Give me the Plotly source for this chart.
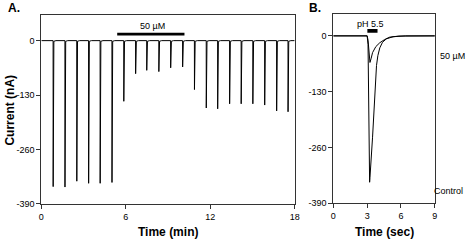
import plotly.graph_objects as go

# ---- Panel A data: spike times (min) and peak currents (nA)
spike_times = [0.84, 1.68, 2.52, 3.36, 4.18, 5.02, 5.86, 6.70, 7.49, 8.35,
               9.19, 10.04, 10.88, 11.72, 12.53, 13.38, 14.20, 15.03, 15.87,
               16.72, 17.53]
spike_peaks = [-349, -350, -336, -341, -341, -339, -145, -79, -71, -74,
               -65, -63, -117, -161, -163, -151, -151, -151, -154, -168, -170]
bar_a = [5.39, 10.17]          # 50 µM application (min)

# ---- Panel B data: time (sec) and current (nA)
ctrl_t = [0.0, 3.0, 3.08, 3.15, 3.22, 3.25, 3.48, 3.69, 3.75, 3.83, 3.95,
          4.12, 4.36, 4.7, 5.3, 6.4, 9.0]
ctrl_v = [0, 0, -20, -200, -341, -330, -236, -122, -100, -69, -46,
          -28, -15, -7, -2, 0, 0]
drug_t = [0.0, 3.0, 3.08, 3.18, 3.25, 3.36, 3.48, 3.77, 4.12, 4.56, 5.0,
          5.8, 9.0]
drug_v = [0, 0, -10, -45, -62, -52, -39, -25, -16, -8.4, -3, -0.5, 0]
bar_b = [3.02, 3.92]           # pH 5.5 application (sec)

ytick_vals = [0, -130, -260, -390]
ytick_text = ["0", "-130", "-260", "-390"]

NARROW = "Liberation Sans Narrow, Arial Narrow, Liberation Sans, Arial"
BOLD = "Liberation Sans, Arial"
SMALL = 9

# build spike trace A
xa, ya = [0.0], [0.0]
for t, p in zip(spike_times, spike_peaks):
    xa += [t - 0.004, t, t + 0.012, t + 0.05, t + 0.2]
    ya += [0, p, -3, -1.5, 0]
xa.append(18.0)
ya.append(0)

fig = go.Figure()
fig.add_trace(go.Scatter(x=xa, y=ya, mode="lines",
                         line=dict(color="black", width=1),
                         xaxis="x", yaxis="y", showlegend=False, hoverinfo="skip"))
fig.add_trace(go.Scatter(x=ctrl_t, y=ctrl_v, mode="lines",
                         line=dict(color="black", width=1),
                         xaxis="x2", yaxis="y2", showlegend=False, hoverinfo="skip"))
fig.add_trace(go.Scatter(x=drug_t, y=drug_v, mode="lines",
                         line=dict(color="black", width=1),
                         xaxis="x2", yaxis="y2", showlegend=False, hoverinfo="skip"))

axis_common = dict(showline=True, mirror=True, linecolor="#333", linewidth=1,
                   ticks="outside", ticklen=4, tickcolor="#333", showgrid=False,
                   zeroline=False, tickfont=dict(family=NARROW, size=SMALL, color="black"))

fig.update_layout(
    width=471, height=247, margin=dict(l=0, r=0, t=0, b=0),
    paper_bgcolor="white", plot_bgcolor="white",
    xaxis=dict(domain=[39/471, 296.7/471], range=[0, 18],
               tickvals=[0, 6, 12, 18], anchor="y", **axis_common),
    yaxis=dict(domain=[(247-208)/247, (247-15)/247], range=[-390, 62],
               tickvals=ytick_vals, ticktext=ytick_text, anchor="x", **axis_common),
    xaxis2=dict(domain=[336/471, 439.3/471], range=[0, 9],
                tickvals=[0, 3, 6, 9], anchor="y2", **axis_common),
    yaxis2=dict(domain=[(247-207.5)/247, (247-14.7)/247], range=[-390, 50],
                tickvals=ytick_vals, ticktext=ytick_text, anchor="x2", **axis_common),
    shapes=[
        dict(type="rect", xref="x", yref="y", x0=bar_a[0], x1=bar_a[1],
             y0=12.3, y1=18.7, fillcolor="black", line=dict(width=0)),
        dict(type="rect", xref="x2", yref="y2", x0=bar_b[0], x1=bar_b[1],
             y0=7.4, y1=15.8, fillcolor="black", line=dict(width=0)),
    ],
    annotations=[
        dict(text="<b>A.</b>", x=3/471, y=(247-8)/247, xref="paper", yref="paper",
             xanchor="left", yanchor="middle", showarrow=False,
             font=dict(family=BOLD, size=12, color="black")),
        dict(text="<b>B.</b>", x=309/471, y=(247-8)/247, xref="paper", yref="paper",
             xanchor="left", yanchor="middle", showarrow=False,
             font=dict(family=BOLD, size=12, color="black")),
        dict(text="50 µM", x=7.89, y=36, xref="x", yref="y",
             xanchor="center", yanchor="middle", showarrow=False,
             font=dict(family=NARROW, size=SMALL, color="black")),
        dict(text="pH 5.5", x=3.31, y=28, xref="x2", yref="y2",
             xanchor="center", yanchor="middle", showarrow=False,
             font=dict(family=NARROW, size=SMALL, color="black")),
        dict(text="50 µM", x=443/471, y=(247-57)/247, xref="paper", yref="paper",
             xanchor="left", yanchor="middle", showarrow=False,
             font=dict(family=NARROW, size=SMALL, color="black")),
        dict(text="Control", x=470/471, y=(247-195)/247, xref="paper", yref="paper",
             xanchor="right", yanchor="middle", showarrow=False,
             font=dict(family=NARROW, size=SMALL, color="black")),
        dict(text="<b>Time (min)</b>", x=167.5/471, y=(247-237)/247, xref="paper",
             yref="paper", xanchor="center", yanchor="middle", showarrow=False,
             font=dict(family=BOLD, size=12, color="black")),
        dict(text="<b>Time (sec)</b>", x=388.3/471, y=(247-237)/247, xref="paper",
             yref="paper", xanchor="center", yanchor="middle", showarrow=False,
             font=dict(family=BOLD, size=12, color="black")),
        dict(text="<b>Current (nA)</b>", x=7/471, y=(247-112)/247, xref="paper",
             yref="paper", xanchor="center", yanchor="middle", showarrow=False,
             textangle=-90, font=dict(family=BOLD, size=12, color="black")),
    ],
)

fig.write_html("out.html")
